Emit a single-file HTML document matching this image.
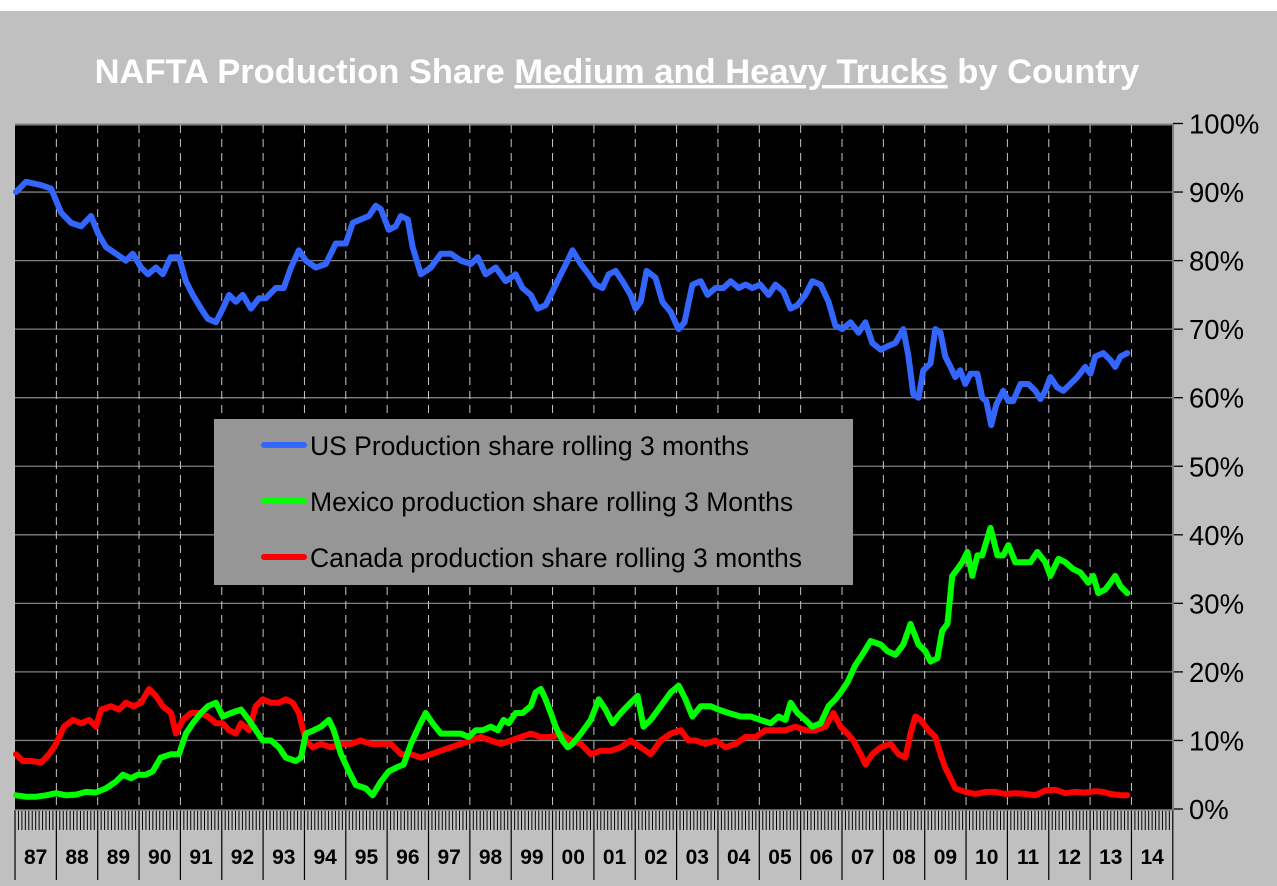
<!DOCTYPE html>
<html><head><meta charset="utf-8"><style>
html,body{margin:0;padding:0;background:#fff;}
svg{display:block;font-family:"Liberation Sans",Arial,sans-serif;}
</style></head><body>
<svg id="chart" width="1277" height="886" viewBox="0 0 1277 886" xmlns="http://www.w3.org/2000/svg">
<rect x="0" y="0" width="1277" height="886" fill="#fff"/>
<rect x="0" y="11" width="1277" height="875" fill="#c0c0c0"/>
<text x="617" y="83" text-anchor="middle" font-size="34.5" font-weight="bold" fill="#fff">NAFTA Production Share <tspan text-decoration="underline">Medium and Heavy Trucks</tspan> by Country</text>
<rect x="15" y="124" width="1158" height="686" fill="#000"/>
<g id="grid"></g>
<g id="series"></g>
<g id="axes"></g>
<g>
<rect x="214" y="419" width="639" height="166" fill="#969696"/>
<line x1="264" y1="445" x2="304" y2="445" stroke="#3366ff" stroke-width="6" stroke-linecap="round"/>
<text x="310" y="455" font-size="26.5" fill="#000">US Production share rolling 3 months</text>
<line x1="264" y1="501" x2="304" y2="501" stroke="#00ff00" stroke-width="6" stroke-linecap="round"/>
<text x="310" y="511" font-size="26.5" fill="#000">Mexico production share rolling 3 Months</text>
<line x1="264" y1="557" x2="304" y2="557" stroke="#ff0000" stroke-width="6" stroke-linecap="round"/>
<text x="310" y="567" font-size="26.5" fill="#000">Canada production share rolling 3 months</text>
</g>
</svg>
<script>
const yearLabels=["87","88","89","90","91","92","93","94","95","96","97","98","99","00","01","02","03","04","05","06","07","08","09","10","11","12","13","14"];
const yTicks=[0,10,20,30,40,50,60,70,80,90,100];
const usMonths=[0,2.9,7.3,10.2,13.1,16,18.9,21.8,23.8,26.1,29,31.9,33.9,36.3,38.3,40.6,42.6,44.9,47.3,49.3,51.3,53.7,55.7,58,60,61.8,63.8,65.8,68.2,70.5,72.5,75.4,77.7,79.8,82.1,84.1,87,89.9,92.8,95.7,97.7,100,102.4,104.4,105.9,108.2,110.2,111.7,113.7,115.1,117.5,120.4,123.3,126.2,129.1,132,134,136.3,139.2,142.1,145,147,149.4,151.4,153.7,155.7,158.1,160.1,161.5,163.9,166.2,168.2,170.2,172,174,176,178.4,179.8,181.3,183,185.6,187.6,190,192.3,194,196.3,198.7,200.7,203,205.3,207.4,209.7,211.7,213.7,216,218.4,220.4,222.7,224.8,226.8,229.1,231.1,233.5,235.8,237.8,239.8,242.2,244.5,246.5,248.5,250.9,252.9,255.2,257.5,259,260.4,261.9,263.3,265.4,266.8,268.3,269.7,271.2,272.6,274,275.5,277,279,280.4,281.6,283,284.5,286.5,288,289.4,291.5,293.8,295.8,297.3,298.7,300.2,302.2,303.9,306,308,310.3,311.8,313.2,315.5,317.6,319,320.5,322.5];
const usValues=[90,91.5,91,90.5,87,85.5,85,86.5,84,82,81,80,81,79,78,79,78,80.5,80.5,77,75,73,71.5,71,73,75,74,75,73,74.5,74.5,76,76,79,81.5,80,79,79.5,82.5,82.5,85.5,86,86.5,88,87.5,84.5,85,86.5,86,82,78,79,81,81,80,79.5,80.5,78,79,77,78,76,75,73,73.5,75.5,78,80,81.5,79.5,78,76.5,76,78,78.5,77,75,73,74,78.5,77.5,74,72.5,70,71,76.5,77,75,76,76,77,76,76.5,76,76.5,75,76.5,75.5,73,73.5,75,77,76.5,74,70.5,70,71,69.5,71,68,67,67.5,68,70,66,60.5,60,64,65,70,69.5,66,64.5,63,64,62,63.5,63.5,60,59.5,56,59,61,59.5,59.5,62,62,61,59.8,61,63,61.5,61,62,63,64.5,63.5,66,66.5,65.5,64.5,66,66.5];
const mxMonths=[0,2.9,5.8,8.7,11.6,14.5,17.4,20.3,23.2,26.1,29,31,33.4,35.4,37.7,39.7,42,45,47.3,49.3,51.3,53.7,55.7,58,60,62.4,65.3,67.6,69.6,71.6,74,76.3,78.3,81.2,82.7,84.1,86.4,88.5,90.8,92.2,94.3,96.6,98.6,101.5,103.5,105.9,108.2,110.2,112.5,114.6,116.9,118.9,120.9,123.3,126.2,129.1,131.4,133.4,135.4,137.8,139.8,141.5,143,145,147,149.4,150.8,152.3,153.7,155.2,156.6,158.6,160.1,161.5,163.9,166.8,169.1,171.1,173.1,175.5,178.4,180.4,182.1,184.2,187.1,190,192.3,194.3,196.3,198.7,201.6,203.9,206.8,210.3,213.2,216,219,221.3,223.3,224.8,226.8,229.1,231.1,233.5,235.8,237.8,239.3,241.3,243.6,245.6,248,250.9,252.9,255.2,257.5,259.6,261.9,263.9,265.4,267.4,268.8,270.3,271.7,273.2,274.6,276.1,277.5,279,280.4,282.8,284.8,286.5,288,290,292,294.4,296.4,298.7,300.2,302.5,304.5,306.8,308.9,311.2,312.6,314.1,316.1,317.6,319,320.5,322.5];
const mxValues=[2,1.8,1.8,2,2.3,2,2.1,2.5,2.4,3,4,5,4.5,5,5,5.5,7.5,8,8,11,12.5,14,15,15.5,13.5,14,14.5,13,11.5,10,10,9,7.5,7,7.5,11,11.5,12,13,11.5,8,5.5,3.5,3,2,4,5.5,6,6.5,9.5,12,14,12.5,11,11,11,10.5,11.5,11.5,12,11.5,13,12.5,14,14,15,17,17.5,16,14,12,10,9,9.5,11,13,16,14.5,12.5,14,15.5,16.5,12,13,15,17,18,16,13.5,15,15,14.5,14,13.5,13.5,13,12.5,13.5,13,15.5,14,13,12,12.5,15,16,17,18.5,21,22.5,24.5,24,23,22.5,24,27,24,23,21.5,22,26,27,34,35,36,37.5,34,37,37,41,37,37,38.5,36,36,36,37.5,36,34,36.5,36,35,34.5,33,34,31.5,32,33,34,32.5,31.5];
const caMonths=[0,2,4.4,7.3,9.6,11.6,13.9,16.5,18.9,21.2,23.2,24.7,27.6,29.9,31.9,34.2,36.3,38.6,40.6,42.6,45,46.4,48.4,50.8,53.1,55.7,58,60,61.8,63.8,65.3,67.6,69.6,71.6,74,76.3,78.3,80.3,82.1,84.1,86.1,88.5,91.4,94.3,97.2,100,103,105.9,108.8,111.7,114.6,117.5,120.4,123.3,126.2,129.1,132,134.9,137.8,140.7,143.6,146.5,149.4,152.3,155.2,158.1,161,163.9,166.8,169.7,172.6,175.5,178.4,181.3,184.2,187.1,190,192.9,195.2,197.2,200.1,203,205.9,208.8,211.7,214.6,217.5,220.4,223.3,226.2,229.1,232,234.9,237.2,239.3,241.3,243,245.1,246.5,248.5,250.9,253.8,256.1,258.1,259.6,261,262.5,264.8,266.8,268.3,269.7,271.2,272.6,275.5,278.4,281.3,284.2,287.1,290,292.9,295.8,298.7,301.6,304.5,307.4,310.3,313.2,315.5,317.6,320.5,322.5];
const caValues=[8,7,7,6.8,8,9.5,12,13,12.5,13,12,14.5,15,14.5,15.5,15,15.5,17.5,16.5,15,14,11,13,14,14,13.5,12.5,12.5,11.5,11,12.5,11.5,15,16,15.5,15.5,16,15.5,14,10,9,9.5,9,9.5,9.5,10,9.5,9.5,9.5,8,8,7.5,8,8.5,9,9.5,10,10.5,10,9.5,10,10.5,11,10.5,10.5,11,10,9.5,8,8.5,8.5,9,10,9,8,10,11,11.5,10,10,9.5,10,9,9.5,10.5,10.5,11.5,11.5,11.5,12,11.5,11.5,12,14,12,11,10,8,6.5,8,9,9.5,8,7.5,11,13.5,13,11.5,10.5,8,6,4.5,3,2.5,2.2,2.5,2.5,2.2,2.3,2.2,2,2.7,2.8,2.3,2.5,2.4,2.6,2.5,2.2,2,2];

const NS='http://www.w3.org/2000/svg';
const X0=15,YW=41.35,Y0=809,YS=6.855;
function xScale(m){return X0+m/12*YW+1;}
function yScale(v){return Y0-v*YS;}
function mk(tag,attrs,parent){const e=document.createElementNS(NS,tag);for(const k in attrs)e.setAttribute(k,attrs[k]);parent.appendChild(e);return e;}
const grid=document.getElementById('grid'),axes=document.getElementById('axes'),series=document.getElementById('series');

yTicks.forEach(v=>{
  if(v>0&&v<100){const l=mk('line',{x1:15,x2:1173,y1:yScale(v),y2:yScale(v),stroke:'#808080','stroke-width':1.3},grid);
  
  }
  const t=mk('line',{x1:1173,x2:1183,y1:yScale(v),y2:yScale(v),stroke:'#000','stroke-width':1.3},axes);
  
  
  const tx=mk('text',{x:1189,y:yScale(v)+10,'font-size':27.5,fill:'#000'},axes);
  tx.textContent=v+'%';
  
  
});
mk('line',{x1:15,x2:1173,y1:124.5,y2:124.5,stroke:'#808080','stroke-width':2},grid);
yearLabels.forEach((lab,i)=>{
  const x=X0+i*YW;
  if(i>0){const g=mk('line',{x1:x,x2:x,y1:125,y2:809,stroke:'#c8c8c8','stroke-width':1,'stroke-dasharray':'8,6'},grid);
  
  }
  const d=mk('line',{x1:x,x2:x,y1:810,y2:880,stroke:'#000','stroke-width':1.2},axes);
  
  
  for(let m=1;m<12;m++){const xm=x+m*YW/12;mk('line',{x1:xm,x2:xm,y1:811,y2:830,stroke:'#000','stroke-width':1},axes);}
  const t=mk('text',{x:x+YW/2,y:864,'text-anchor':'middle','font-size':21,'font-weight':'bold',fill:'#000'},axes);
  t.textContent=lab;
  
  
});
const lastX=X0+yearLabels.length*YW;
mk('line',{x1:lastX,x2:lastX,y1:810,y2:880,stroke:'#000','stroke-width':1.2},axes);
mk('line',{x1:1173,x2:1173,y1:124,y2:810,stroke:'#808080','stroke-width':2},axes);
mk('line',{x1:15,x2:1173,y1:810,y2:810,stroke:'#808080','stroke-width':1.5},axes);

function draw(ms,vs,color,name){
  const d=ms.map((m,i)=>(i?'L':'M')+xScale(m).toFixed(1)+','+yScale(vs[i]).toFixed(1)).join(' ');
  const p=mk('path',{d:d,fill:'none',stroke:color,'stroke-width':6,'stroke-linejoin':'round','stroke-linecap':'round'},series);
  
  
}
draw(caMonths,caValues,'#ff0000','canada-share-line');
draw(mxMonths,mxValues,'#00ff00','mexico-share-line');
draw(usMonths,usValues,'#3366ff','us-share-line');
</script>
</body></html>
